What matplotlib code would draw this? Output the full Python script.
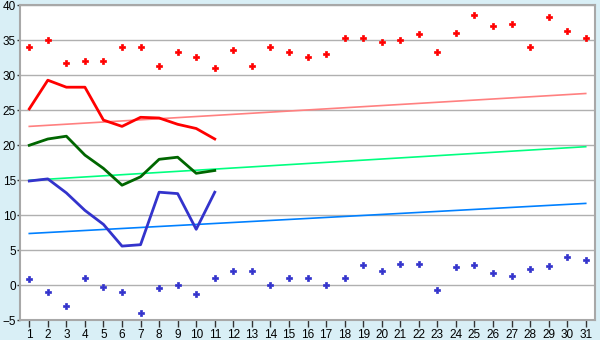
import matplotlib
matplotlib.use("Agg")
import matplotlib.pyplot as plt
import numpy as np

days = list(range(1, 32))
max_temp = [34.0, 35.0, 31.7, 32.0, 32.0, 34.0, 34.0, 31.3, 33.4, 32.6, 31.0,
            33.6, 31.4, 34.0, 33.4, 32.6, 33.0, 35.4, 35.3, 34.7, 35.0, 35.9,
            33.3, 36.0, 38.6, 37.0, 37.3, 34.0, 38.3, 36.3, 35.3]
min_temp = [0.9, -1.0, -3.0, 1.1, -0.3, -1.0, -4.0, -0.4, 0.0, -1.3, 1.0,
            2.0, 2.0, 0.0, 1.0, 1.1, 0.0, 1.0, 2.9, 2.0, 3.0, 3.0,
            -0.7, 2.6, 2.9, 1.7, 1.4, 2.4, 2.7, 4.0, 3.6]
line_days = list(range(1, 12))
red_line = [25.2, 29.3, 28.3, 28.3, 23.6, 22.7, 24.0, 23.9, 23.0, 22.4, 20.9]
green_line = [20.0, 20.9, 21.3, 18.6, 16.7, 14.3, 15.5, 18.0, 18.3, 16.0, 16.4]
blue_line = [14.9, 15.2, 13.2, 10.7, 8.7, 5.6, 5.8, 13.3, 13.1, 8.0, 13.3]
trend_days = [1, 31]
red_trend = [22.7, 27.4]
green_trend = [15.0, 19.8]
blue_trend = [7.4, 11.7]

plt.rcParams['font.family'] = ['Liberation Sans', 'DejaVu Sans']

bg = "#d9eff6"
fig = plt.figure(figsize=(6, 3.4), dpi=100, facecolor=bg)
ax = fig.add_axes([20/600, (340-320.3)/340, 575/600, 315/340])
ax.set_facecolor("white")

ax.set_xlim(0.5, 31.5)
ax.set_ylim(-5, 40)
ax.set_yticks(range(-5, 41, 5))
ax.set_xticks(days)
ax.grid(axis="y", color="#b0b0b0", linewidth=1)
ax.set_axisbelow(True)

ax.plot(trend_days, red_trend, color="#ff8080", lw=1.2)
ax.plot(trend_days, green_trend, color="#00ff80", lw=1.2)
ax.plot(trend_days, blue_trend, color="#0080ff", lw=1.2)

ax.plot(line_days, red_line, color="#ff0000", lw=2)
ax.plot(line_days, green_line, color="#006600", lw=2)
ax.plot(line_days, blue_line, color="#3333cc", lw=2)

ax.plot(days, max_temp, linestyle="none", marker="P", markersize=5,
        color="#ff0000", markeredgewidth=0.5)
ax.plot(days, min_temp, linestyle="none", marker="P", markersize=5,
        color="#3333cc", markeredgewidth=0.5)

for s in ax.spines.values():
    s.set_color("#a8a8a8")
    s.set_linewidth(1.5)
ax.tick_params(axis="both", labelsize=8.5, colors="#333333", width=1,
               labelcolor="black")
ax.tick_params(axis="y", length=2, pad=1)
ax.tick_params(axis="x", length=5, pad=1)

fig.savefig("out.png", dpi=100, facecolor=bg)
